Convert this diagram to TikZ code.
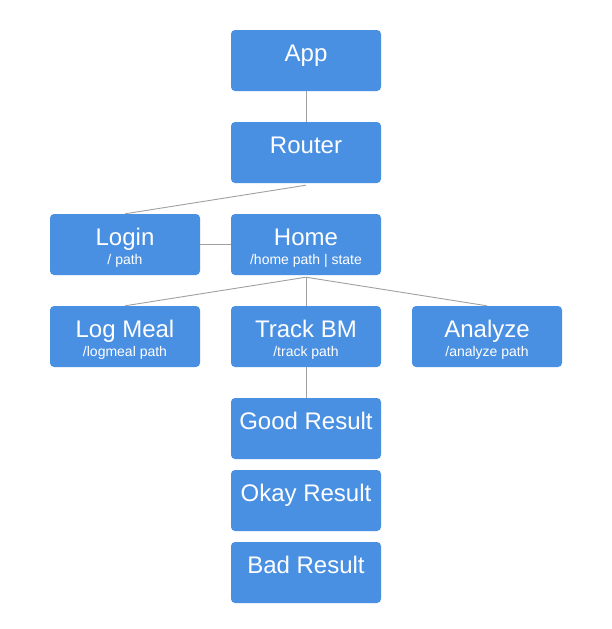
\documentclass[tikz,border=0pt]{standalone}
\usepackage{fontspec}
\setmainfont{Liberation Sans}
\usepackage{tikz}

\definecolor{cardblue}{HTML}{4A90E2}
\definecolor{linkgray}{HTML}{A0A0A0}

\tikzset{
    card/.style={rectangle, rounded corners=4pt, fill=cardblue, draw=none,
        minimum width=150pt, minimum height=61pt, inner sep=0pt},
    title/.style={anchor=base, text=white, inner sep=0pt, font=\fontsize{24}{26}\selectfont},
    sub/.style={anchor=base, text=white, inner sep=0pt, font=\fontsize{14}{16}\selectfont},
    link/.style={draw=linkgray, line width=0.9pt}
}

\begin{document}
\begin{tikzpicture}[x=1pt,y=-1pt]
            \useasboundingbox (0,0) rectangle (612,629);

            % Boxes
            \node[card] (app)   at (306,60.5)  {};
            \node[card] (router) at (306,152.5) {};
            \node[card] (login) at (125,244.5) {};
            \node[card] (home)  at (306,244.5) {};
            \node[card] (meal)  at (125,336.5) {};
            \node[card] (track) at (306,336.5) {};
            \node[card] (analyze) at (487,336.5) {};
            \node[card] (good)  at (306,428.5) {};
            \node[card] (okay)  at (306,500.5) {};
            \node[card] (bad)   at (306,572.5) {};

            % Titles
            \node[title] (app-t)    at (306,61)  {App};
            \node[title] (router-t) at (306,153) {Router};
            \node[title] (login-t)  at (125,245) {Login};
            \node[title] (home-t)   at (306,245) {Home};
            \node[title] (meal-t)   at (125,337) {Log Meal};
            \node[title] (track-t)  at (306,337) {Track BM};
            \node[title] (analyze-t) at (487,337) {Analyze};
            \node[title] (good-t)   at (306,429) {Good Result};
            \node[title] (okay-t)   at (306,501) {Okay Result};
            \node[title] (bad-t)    at (306,573) {Bad Result};

            % Paths
            \node[sub] (login-s)   at (125,264) {/ path};
            \node[sub] (home-s)    at (306,264) {/home path | state};
            \node[sub] (meal-s)    at (125,356) {/logmeal path};
            \node[sub] (track-s)   at (306,356) {/track path};
            \node[sub] (analyze-s) at (487,356) {/analyze path};

            % Links
            \draw[link] (app.south) -- (router.north);
            \draw[link] ([yshift=-2pt]router.south) -- (login.north);
            \draw[link] (login.east) -- (home.west);
            \draw[link] ([yshift=-2pt]home.south) -- (meal.north);
            \draw[link] ([yshift=-2pt]home.south) -- (track.north);
            \draw[link] ([yshift=-2pt]home.south) -- (analyze.north);
            \draw[link] (track.south) -- (good.north);

        \end{tikzpicture}
\end{document}
